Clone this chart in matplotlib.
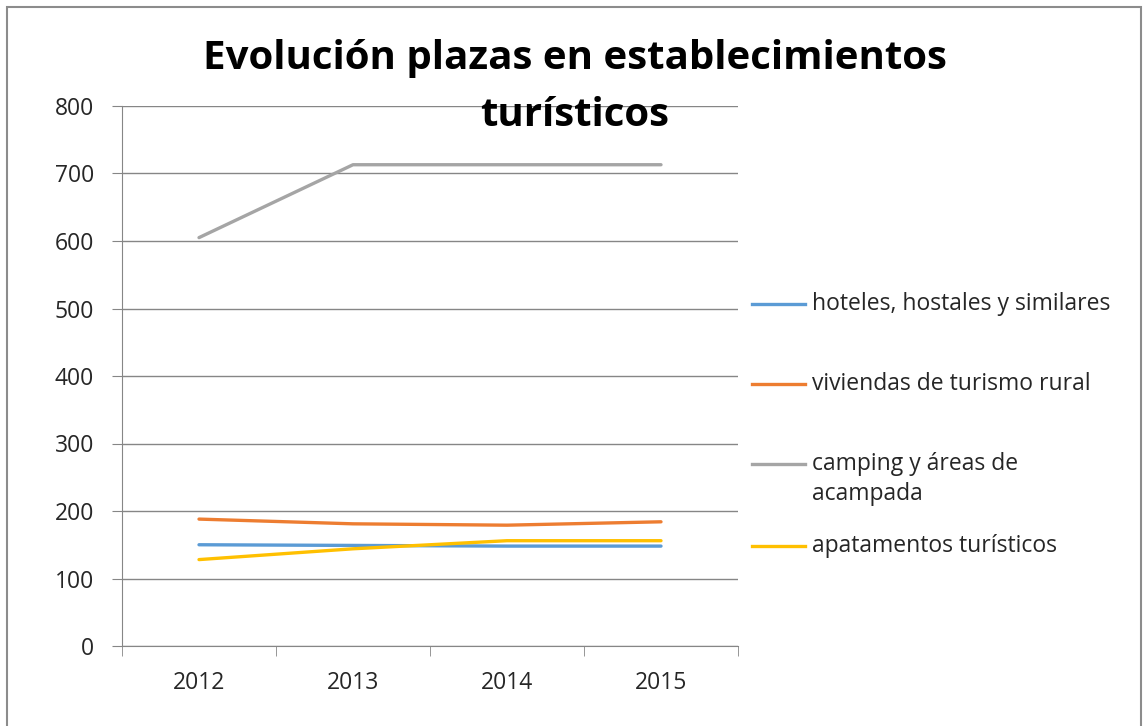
import matplotlib.pyplot as plt
from matplotlib.lines import Line2D
from matplotlib.patches import Rectangle
import numpy as np

# Datos
years = ['2012', '2013', '2014', '2015']
hoteles = [150, 149, 148, 148]
viviendas = [188, 181, 179, 184]
camping = [605, 713, 713, 713]
apartamentos = [128, 144, 156, 156]

series_names = ['hoteles, hostales y similares', 'viviendas de turismo rural',
                'camping y áreas de\nacampada', 'apatamentos turísticos']
series_values = [hoteles, viviendas, camping, apartamentos]
colors = ['#5B9BD5', '#ED7D31', '#A5A5A5', '#FFC000']

plt.rcParams['font.family'] = ['Open Sans', 'DejaVu Sans']

fig = plt.figure(figsize=(11.44, 7.26), dpi=100)
W, H = 1144, 726

# marco exterior del gráfico
fig.add_artist(Rectangle((7 / W, -0.05), 1134 / W, 1 - 7 / H + 0.05, transform=fig.transFigure,
                         fill=False, edgecolor='#8c8c8c', linewidth=1.5))

ax = fig.add_axes([122 / W, 1 - 646 / H, 616 / W, 540 / H])
x = np.arange(len(years))
for vals, c in zip(series_values, colors):
    ax.plot(x, vals, color=c, linewidth=2.4, solid_capstyle='round')

ax.set_xlim(-0.5, 3.5)
ax.set_ylim(0, 800)
ax.set_yticks(range(0, 801, 100))
ax.set_xticks(x)
ax.set_xticklabels(years)
ax.set_xticks(np.arange(-0.5, 4, 1), minor=True)
ax.tick_params(axis='x', which='major', length=0, pad=18, labelsize=16.5, labelcolor='#262626')
ax.tick_params(axis='x', which='minor', length=7, color='#868686', direction='out')
ax.tick_params(axis='y', length=7, color='#868686', pad=13, labelsize=16.5, labelcolor='#262626')
ax.grid(axis='y', color='#868686', linewidth=1)
ax.set_axisbelow(True)
for s in ['top', 'right']:
    ax.spines[s].set_visible(False)
for s in ['left', 'bottom']:
    ax.spines[s].set_color('#868686')

# título
fig.text(575 / W, 1 - 58 / H, 'Evolución plazas en establecimientos', ha='center', va='center',
         fontsize=29, fontweight='bold', color='black')
fig.text(575 / W, 1 - 116 / H, 'turísticos', ha='center', va='center',
         fontsize=29, fontweight='bold', color='black')

# leyenda
legend_y = [304, 384, 464, 546]
for name, c, yy in zip(series_names, colors, legend_y):
    fig.add_artist(Line2D([752 / W, 805 / W], [1 - yy / H, 1 - yy / H], transform=fig.transFigure,
                          color=c, linewidth=2.4))
    fig.text(812 / W, 1 - (yy - 12) / H, name, ha='left', va='top', fontsize=16.5,
             color='#262626', linespacing=1.35)

fig.savefig('out.png', dpi=100)
